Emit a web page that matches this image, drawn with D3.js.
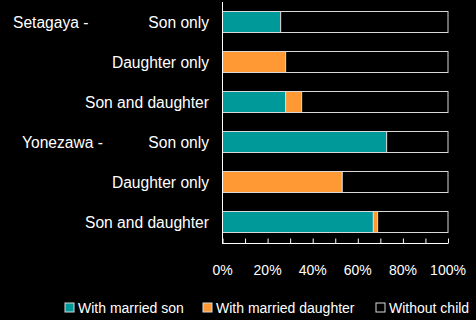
<!DOCTYPE html>
<html>
<head>
<meta charset="utf-8">
<script src="https://cdn.jsdelivr.net/npm/d3@7"></script>
<style>
  html, body { margin: 0; padding: 0; background: #000; }
  svg { display: block; }
  text { font-family: "Liberation Sans", Arial, sans-serif; fill: #fff; }
</style>
</head>
<body>
<svg id="chart" width="476" height="320"></svg>
<script>
// Household composition by children, two cities
const categories = ["Son only", "Daughter only", "Son and daughter",
                    "Son only", "Daughter only", "Son and daughter"];
const groups = ["Setagaya -", "", "", "Yonezawa -", "", ""];
const withMarriedSon      = [25.8, 0, 28.0, 72.8, 0, 66.9];
const withMarriedDaughter = [0, 28.0, 7.1, 0, 53.1, 1.9];
const withoutChild        = withMarriedSon.map((s, i) => 100 - s - withMarriedDaughter[i]);
const seriesNames = ["With married son", "With married daughter", "Without child"];
const seriesColors = ["#009999", "#ff9933", "#000000"];
const tickValues = [0, 20, 40, 60, 80, 100];

const rows = categories.map((c, i) => ({
  key: i,
  son: withMarriedSon[i],
  daughter: withMarriedDaughter[i],
  none: withoutChild[i]
}));

const svg = d3.select("#chart");

const x = d3.scaleLinear().domain([0, 100]).range([222.5, 448]);
const y = d3.scaleBand()
  .domain(rows.map(d => d.key))
  .range([2, 242])
  .paddingInner(0.475)
  .paddingOuter(0.2375);

const stack = d3.stack().keys(["son", "daughter", "none"]);
const layers = stack(rows);

svg.append("g")
  .selectAll("g")
  .data(layers)
  .join("g")
  .attr("fill", (d, i) => seriesColors[i])
  .selectAll("rect")
  .data(d => d)
  .join("rect")
  .filter(d => d[1] - d[0] > 0)
  .attr("x", d => x(d[0]))
  .attr("y", d => y(d.data.key))
  .attr("width", d => x(d[1]) - x(d[0]))
  .attr("height", y.bandwidth())
  .attr("stroke", "#d9d9d9")
  .attr("stroke-width", 1);

// Vertical baseline
svg.append("line")
  .attr("x1", 222.5).attr("x2", 222.5)
  .attr("y1", 2).attr("y2", 244)
  .attr("stroke", "#fff").attr("stroke-width", 1);

// Bottom axis with minor ticks every 10%
const xAxis = d3.axisTop(x)
  .tickValues(d3.range(0, 101, 10))
  .tickSize(5)
  .tickFormat("");
const gx = svg.append("g")
  .attr("transform", "translate(0,243.5)")
  .call(xAxis);
gx.select(".domain").attr("stroke", "#fff").attr("d", `M${x(0)},0H${x(100)}`);
gx.selectAll(".tick line").attr("stroke", "#fff");

svg.append("g")
  .selectAll("text")
  .data(tickValues)
  .join("text")
  .attr("x", d => x(d))
  .attr("y", 275)
  .attr("text-anchor", "middle")
  .attr("font-size", 14)
  .text(d => d + "%");

// Category labels
svg.append("g")
  .selectAll("text")
  .data(rows)
  .join("text")
  .attr("x", 209)
  .attr("y", d => y(d.key) + y.bandwidth() / 2 + 5.5)
  .attr("text-anchor", "end")
  .attr("font-size", 15.6)
  .text((d, i) => categories[i]);

// Group labels
const groupX = [13, 22, 22, 22, 22, 22];
svg.append("g")
  .selectAll("text")
  .data(rows.filter((d, i) => groups[i]))
  .join("text")
  .attr("x", d => groupX[d.key])
  .attr("y", d => y(d.key) + y.bandwidth() / 2 + 5.5)
  .attr("font-size", 15.6)
  .text(d => groups[d.key]);

// Legend
const legendX = [65, 203, 376];
const lg = svg.append("g")
  .selectAll("g")
  .data(seriesNames)
  .join("g")
  .attr("transform", (d, i) => `translate(${legendX[i]},303)`);
lg.append("rect")
  .attr("width", 9).attr("height", 9)
  .attr("fill", (d, i) => seriesColors[i])
  .attr("stroke", "#d9d9d9");
lg.append("text")
  .attr("x", 13)
  .attr("y", 10)
  .attr("font-size", 14)
  .text(d => d);
</script>
</body>
</html>
